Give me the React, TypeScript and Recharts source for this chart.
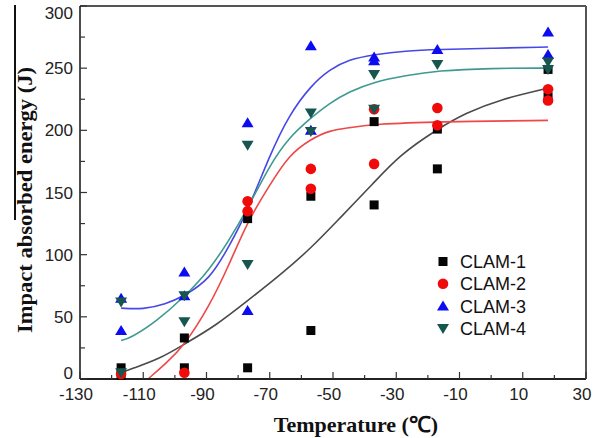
import React from "react";
import { ComposedChart, Line, Scatter, XAxis, YAxis, ReferenceLine } from "recharts";

// measured Charpy points (temperature °C, energy J)
const clam1Points = [
  { t: -117, e: 9 }, { t: -117, e: 3 },
  { t: -97, e: 33 }, { t: -97, e: 9 },
  { t: -77, e: 129 }, { t: -77, e: 9 },
  { t: -57, e: 147 }, { t: -57, e: 39 },
  { t: -37, e: 207 }, { t: -37, e: 140 },
  { t: -17, e: 201 }, { t: -17, e: 169 },
  { t: 18, e: 249 }, { t: 18, e: 227 },
];
const clam2Points = [
  { t: -117, e: 4 },
  { t: -97, e: 5 },
  { t: -77, e: 143 }, { t: -77, e: 135 },
  { t: -57, e: 169 }, { t: -57, e: 153 },
  { t: -37, e: 217 }, { t: -37, e: 173 },
  { t: -17, e: 218 }, { t: -17, e: 204 },
  { t: 18, e: 233 }, { t: 18, e: 224 },
];
const clam3Points = [
  { t: -117, e: 65 }, { t: -117, e: 39 },
  { t: -97, e: 86 }, { t: -97, e: 67 },
  { t: -77, e: 206 }, { t: -77, e: 55 },
  { t: -57, e: 268 }, { t: -57, e: 200 },
  { t: -37, e: 259 }, { t: -37, e: 256 },
  { t: -17, e: 265 },
  { t: 18, e: 279 }, { t: 18, e: 261 },
];
const clam4Points = [
  { t: -117, e: 62 }, { t: -117, e: 5 },
  { t: -97, e: 67 }, { t: -97, e: 46 },
  { t: -77, e: 188 }, { t: -77, e: 92 },
  { t: -57, e: 214 }, { t: -57, e: 199 },
  { t: -37, e: 245 }, { t: -37, e: 217 },
  { t: -17, e: 253 },
  { t: 18, e: 255 }, { t: 18, e: 249 },
];

// fitted curves
const clam1Fit = [
  { t: -117, e: 5 }, { t: -114, e: 8 }, { t: -105, e: 16 }, { t: -97, e: 28 },
  { t: -87, e: 43 }, { t: -77, e: 63 }, { t: -67, e: 83 }, { t: -57, e: 105 },
  { t: -48, e: 129 }, { t: -37, e: 158 }, { t: -29, e: 180 }, { t: -17, e: 201 },
  { t: -8, e: 214 }, { t: 3, e: 225 }, { t: 18, e: 234 },
];
const clam2Fit = [
  { t: -108.5, e: 0 }, { t: -103, e: 12 }, { t: -97, e: 27 }, { t: -89, e: 59 },
  { t: -83, e: 91 }, { t: -77, e: 127 }, { t: -70, e: 156 }, { t: -64, e: 180 },
  { t: -57, e: 193 }, { t: -51, e: 200 }, { t: -45, e: 202 }, { t: -37, e: 205 },
  { t: -17, e: 207 }, { t: 18, e: 208 },
];
const clam3Fit = [
  { t: -117, e: 57 }, { t: -110, e: 56 }, { t: -103, e: 60 }, { t: -97, e: 67 },
  { t: -89, e: 80 }, { t: -83, e: 106 }, { t: -77, e: 135 }, { t: -70, e: 180 },
  { t: -64, e: 212 }, { t: -57, e: 236 }, { t: -51, e: 249 }, { t: -45, e: 257 },
  { t: -37, e: 261 }, { t: -27, e: 264 }, { t: -17, e: 265 }, { t: 0, e: 266 }, { t: 18, e: 267 },
];
const clam4Fit = [
  { t: -117, e: 31 }, { t: -114, e: 33 }, { t: -106, e: 46 }, { t: -97, e: 66 },
  { t: -89, e: 88 }, { t: -83, e: 111 }, { t: -77, e: 137 }, { t: -70, e: 172 },
  { t: -64, e: 194 }, { t: -57, e: 210 }, { t: -51, e: 222 }, { t: -45, e: 231 },
  { t: -37, e: 239 }, { t: -27, e: 244 }, { t: -17, e: 248 }, { t: 0, e: 250 }, { t: 18, e: 250 },
];

const xTicks = [-130, -120, -110, -100, -90, -80, -70, -60, -50, -40, -30, -20, -10, 0, 10, 20, 30];
const yTicks = [0, 25, 50, 75, 100, 125, 150, 175, 200, 225, 250, 275, 300];

const SANS = "'Liberation Sans', Arial, sans-serif";
const SERIF = "'Liberation Serif', 'Times New Roman', serif";

const square = (cx: number, cy: number, c: string) => (
  <rect x={cx - 4.5} y={cy - 4.5} width={9} height={9} fill={c} />
);
const circle = (cx: number, cy: number, c: string) => <circle cx={cx} cy={cy} r={5.3} fill={c} />;
const triUp = (cx: number, cy: number, c: string) => (
  <polygon points={`${cx - 6},${cy + 4.5} ${cx + 6},${cy + 4.5} ${cx},${cy - 5.5}`} fill={c} />
);
const triDown = (cx: number, cy: number, c: string) => (
  <polygon points={`${cx - 6},${cy - 4.5} ${cx + 6},${cy - 4.5} ${cx},${cy + 5.5}`} fill={c} />
);

const SERIES = [
  { name: "CLAM-1", pts: clam1Points, fit: clam1Fit, mark: square, color: "#050505", line: "#4a4a4a" },
  { name: "CLAM-2", pts: clam2Points, fit: clam2Fit, mark: circle, color: "#f00a0a", line: "#ee4848" },
  { name: "CLAM-3", pts: clam3Points, fit: clam3Fit, mark: triUp, color: "#0c0cf0", line: "#4848e6" },
  { name: "CLAM-4", pts: clam4Points, fit: clam4Fit, mark: triDown, color: "#17564f", line: "#3e9a91" },
];

const X_MARGIN = 9;
const Y_MARGIN = 7;

function XTick(props: any) {
  const { x, y, payload } = props;
  const axisY = y - X_MARGIN;
  const major = (payload.value + 130) % 20 === 0;
  return (
    <g>
      <line x1={x} x2={x} y1={axisY} y2={axisY - (major ? 7 : 4)} stroke="#333" strokeWidth={1.2} />
      {major && (
        <text x={x - 4} y={y} dy="0.71em" textAnchor="middle" fontFamily={SANS} fontSize={17} fill="#222">
          {payload.value}
        </text>
      )}
    </g>
  );
}

function YTick(props: any) {
  const { x, y, payload } = props;
  const axisX = x + Y_MARGIN;
  const major = payload.value % 50 === 0;
  const shift = payload.value === 300 ? 7 : payload.value === 0 ? -6 : 0;
  return (
    <g>
      <line x1={axisX} x2={axisX + (major ? 7 : 5)} y1={y} y2={y} stroke="#333" strokeWidth={1.2} />
      {major && (
        <text x={x} y={y + shift} dy="0.355em" textAnchor="end" fontFamily={SANS} fontSize={17} fill="#222">
          {payload.value}
        </text>
      )}
    </g>
  );
}

function RTick(props: any) {
  const { x, y } = props;
  return <line x1={x} x2={x - 5} y1={y} y2={y} stroke="#555" strokeWidth={1.2} />;
}

export default function App() {
  return (
    <div style={{ position: "relative", width: 598, height: 438, background: "#fff" }}>
      <style>{"body{margin:0}"}</style>
      <ComposedChart width={598} height={438} margin={{ top: 6, right: 0, left: 0, bottom: 0 }}>
        <XAxis
          dataKey="t"
          type="number"
          domain={[-130, 30]}
          ticks={xTicks}
          allowDataOverflow
          height={59}
          tickSize={0}
          tickMargin={X_MARGIN}
          tick={<XTick />}
          axisLine={{ stroke: "#222", strokeWidth: 2 }}
          interval={0}
          label={() => (
            <text x={356} y={432} textAnchor="middle" fontFamily={SERIF} fontWeight="bold" fontSize={22} fill="#111">
              Temperature (℃)
            </text>
          )}
        />
        <YAxis
          type="number"
          domain={[0, 300]}
          ticks={yTicks}
          width={80}
          tickSize={0}
          tickMargin={Y_MARGIN}
          tick={<YTick />}
          interval={0}
          axisLine={{ stroke: "#111", strokeWidth: 1.5 }}
          label={() => (
            <text
              x={32}
              y={200}
              transform="rotate(-90 32 200)"
              textAnchor="middle"
              fontFamily={SERIF}
              fontWeight="bold"
              fontSize={21}
              textLength={266}
              lengthAdjust="spacingAndGlyphs"
              fill="#111"
            >
              Impact absorbed energy (J)
            </text>
          )}
        />
        <YAxis
          yAxisId="r"
          orientation="right"
          type="number"
          domain={[0, 300]}
          ticks={yTicks}
          width={12}
          tickSize={0}
          tickMargin={0}
          tick={<RTick />}
          interval={0}
          axisLine={{ stroke: "#555", strokeWidth: 2 }}
        />
        <ReferenceLine y={300} stroke="#555" strokeWidth={2} />
        {SERIES.map((s) => (
          <Line
            key={s.name + "-fit"}
            data={s.fit}
            dataKey="e"
            type="basis"
            stroke={s.line}
            strokeWidth={1.6}
            dot={false}
            activeDot={false}
            isAnimationActive={false}
            legendType="none"
          />
        ))}
        {SERIES.map((s) => (
          <Scatter
            key={s.name}
            name={s.name}
            data={s.pts}
            dataKey="e"
            isAnimationActive={false}
            shape={(p: any) => s.mark(p.cx, p.cy, s.color)}
          />
        ))}
      </ComposedChart>
      <div style={{ position: "absolute", left: 14, top: 5, width: 1.5, height: 215, background: "#111" }} />
      <svg style={{ position: "absolute", left: 430, top: 248 }} width={110} height={94}>
        {SERIES.map((s, i) => (
          <g key={s.name}>
            {s.mark(13, 13.5 + i * 22.3, s.color)}
            <text x={30} y={13.5 + i * 22.3} dy="0.36em" fontFamily={SANS} fontSize={18} fill="#111">
              {s.name}
            </text>
          </g>
        ))}
      </svg>
    </div>
  );
}
